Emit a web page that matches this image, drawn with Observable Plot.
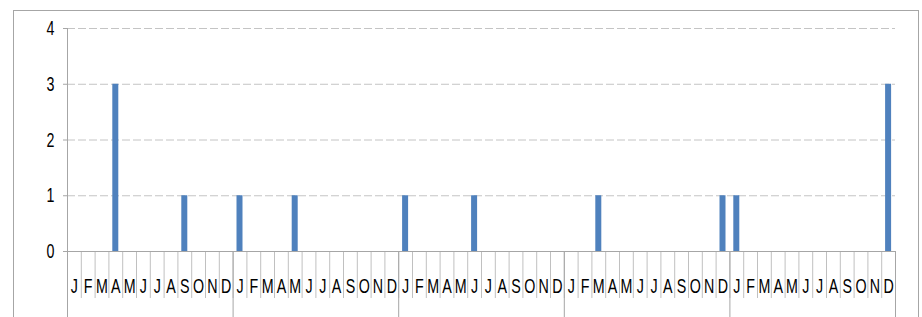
<!DOCTYPE html>
<html>
<head>
<meta charset="utf-8">
<script src="https://cdn.jsdelivr.net/npm/d3@7"></script>
<script src="https://cdn.jsdelivr.net/npm/@observablehq/plot@0.6"></script>
<style>
  html, body { margin: 0; padding: 0; background: white; overflow: hidden; }
  #wrap { position: relative; width: 922px; height: 317px; }
  #border { position: absolute; left: 13px; top: 10px; width: 906px; height: 400px;
            box-sizing: border-box; border: 1px solid #a6a6a6; pointer-events: none; }
  #chart { position: absolute; left: 0; top: 0; }
</style>
</head>
<body>
<div id="wrap"><div id="border"></div><div id="chart"></div></div>
<script>
// Month letters (tick labels), repeated for each year
const monthLetters = ["J","F","M","A","M","J","J","A","S","O","N","D"];
// Counts per month, one array per year
const year1 = [0,0,0,3,0,0,0,0,1,0,0,0];
const year2 = [1,0,0,0,1,0,0,0,0,0,0,0];
const year3 = [1,0,0,0,0,1,0,0,0,0,0,0];
const year4 = [0,0,1,0,0,0,0,0,0,0,0,1];
const year5 = [1,0,0,0,0,0,0,0,0,0,0,3];
const yTicks = [0,1,2,3,4];

const years = [year1, year2, year3, year4, year5];
const data = [];
years.forEach((arr, yi) => arr.forEach((v, mi) => {
  data.push({i: yi * 12 + mi, v, m: monthLetters[mi]});
}));
const n = data.length;
const monthEdges = d3.range(n + 1);
const yearEdges = d3.range(0, n + 1, 12);

const font = "'Liberation Sans', Arial, sans-serif";

const plot = Plot.plot({
  width: 922,
  height: 317,
  marginLeft: 67,
  marginRight: 27,
  marginTop: 28,
  marginBottom: 66,
  style: {background: "none", fontFamily: font, fontSize: "21px", color: "black"},
  x: {type: "linear", domain: [0, n], axis: null},
  y: {domain: [0, 4], axis: null},
  marks: [
    Plot.ruleY(yTicks.filter(d => d > 0), {stroke: "#c4c4c4", strokeDasharray: "8,3"}),
    Plot.axisY({ticks: yTicks, tickSize: 4, tickPadding: 9, label: null, stroke: "#a6a6a6", fill: "black", fontSize: 21, tickFormat: d => d}),
    Plot.ruleX(monthEdges, {y1: 0, y2: -0.843, stroke: "#c0c0c0"}),
    Plot.ruleX(yearEdges, {y1: d => d === 0 ? 4 : 0, y2: -1.4, stroke: "#a6a6a6"}),
    Plot.ruleY([0], {stroke: "#a6a6a6"}),
    Plot.rectY(data, {x1: "i", x2: d => d.i + 1, y: "v", fill: "#4f81bd", insetLeft: 3.9, insetRight: 3.9}),
    Plot.text(data, {x: d => d.i + 0.5, y: 0, dy: 35, text: "m", fontSize: 21, fill: "black"})
  ]
});

// Horizontally condense all text (the reference uses a narrow face)
const SX = 0.68;
plot.querySelectorAll("text").forEach(t => {
  const tr = t.getAttribute("transform") || "";
  t.setAttribute("transform", tr + ` scale(${SX},1)`);
});
document.getElementById("chart").appendChild(plot);
</script>
</body>
</html>
